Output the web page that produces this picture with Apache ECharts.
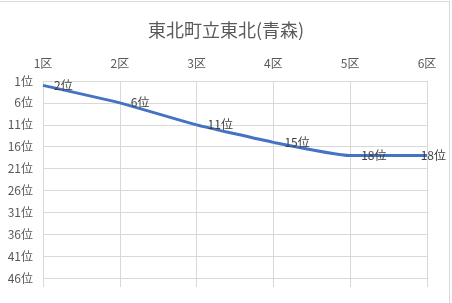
<!DOCTYPE html>
<html>
<head>
<meta charset="utf-8">
<script src="https://cdn.jsdelivr.net/npm/echarts@6/dist/echarts.min.js"></script>
<style>
html,body{margin:0;padding:0;background:#fff;}
#c{position:absolute;left:0;top:0;width:452px;height:303px;}
#f{position:absolute;left:0;top:1px;width:450px;height:302px;border-top:1px solid #d9d9d9;border-right:1px solid #d9d9d9;pointer-events:none;box-sizing:border-box;}
</style>
</head>
<body>
<div id="c"></div>
<div id="f"></div>
<script>
const titleText = '東北町立東北(青森)';
const categories = ['1区', '2区', '3区', '4区', '5区', '6区'];
const ranks = [2, 6, 11, 15, 18, 18];
const rankMin = 1;
const rankMax = 48;
const rankStep = 5;

const chart = echarts.init(document.getElementById('c'), null, {renderer: 'canvas'});
const font = '"Noto Sans CJK JP", "Noto Sans", sans-serif';
const chartW = 452;
chart.setOption({
  animation: false,
  backgroundColor: '#fff',
  title: {
    text: titleText,
    left: 'center',
    top: 16,
    textStyle: {fontSize: 18, fontWeight: 'normal', color: '#595959', fontFamily: font}
  },
  grid: {left: 43, right: 25, top: 81, bottom: 16, containLabel: false},
  xAxis: {
    type: 'category',
    position: 'top',
    data: categories,
    boundaryGap: false,
    axisLine: {show: false},
    axisTick: {show: false},
    axisLabel: {color: '#595959', fontSize: 12, margin: 12, fontFamily: font},
    splitLine: {show: true, lineStyle: {color: '#d9d9d9', width: 1}}
  },
  yAxis: {
    type: 'value',
    inverse: true,
    min: rankMin,
    max: rankMax,
    interval: rankStep,
    axisLine: {show: false},
    axisTick: {show: false},
    axisLabel: {
      color: '#595959', fontSize: 12, margin: 10, fontFamily: font,
      showMaxLabel: false,
      formatter: v => (v === rankMax ? '' : v + '位')
    },
    splitLine: {show: true, showMaxLine: false, lineStyle: {color: '#d9d9d9', width: 1}}
  },
  series: [{
    type: 'line',
    data: ranks,
    smooth: 0.15,
    showSymbol: true,
    showAllSymbol: true,
    symbol: 'circle',
    symbolSize: 2,
    itemStyle: {color: 'rgba(0,0,0,0)', borderWidth: 0},
    lineStyle: {color: '#4472C4', width: 3},
    label: {
      show: true,
      position: 'right',
      distance: 10,
      color: '#404040',
      fontSize: 12,
      fontFamily: font,
      formatter: p => p.value + '位'
    },
    labelLayout: function (params) {
      const r = params.labelRect;
      if (r.x + r.width > chartW - 6) {
        return {x: chartW - 6 - r.width, y: r.y + r.height / 2, align: 'left', verticalAlign: 'middle'};
      }
      return {};
    }
  }]
});
</script>
</body>
</html>
